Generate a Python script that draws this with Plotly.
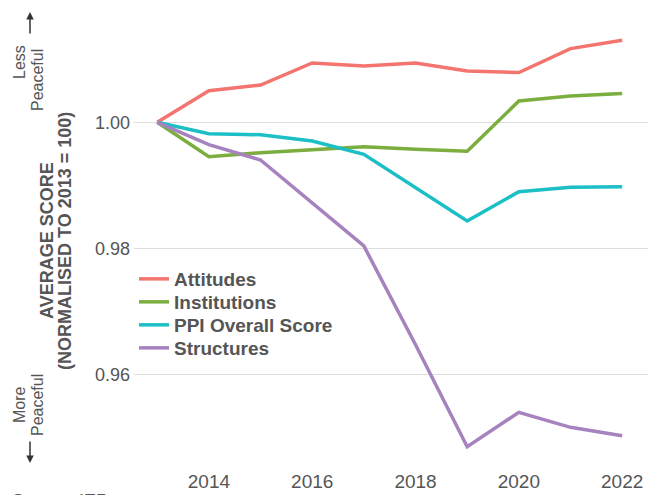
import plotly.graph_objects as go

years = [2013, 2014, 2015, 2016, 2017, 2018, 2019, 2020, 2021, 2022]
attitudes = [1.0, 1.00501, 1.00591, 1.0094, 1.00892, 1.0094, 1.00813, 1.00789, 1.01168, 1.01301]
institutions = [1.0, 0.99455, 0.99518, 0.99572, 0.99613, 0.99572, 0.9954, 1.00338, 1.00417, 1.00458]
ppi_overall = [1.0, 0.99819, 0.99803, 0.99704, 0.99493, 0.98964, 0.98436, 0.98900, 0.9897, 0.9898]
structures = [1.0, 0.99645, 0.99403, 0.98721, 0.9804, 0.96475, 0.94859, 0.95404, 0.95166, 0.95033]

series_names = ["Attitudes", "Institutions", "PPI Overall Score", "Structures"]
series_values = [attitudes, institutions, ppi_overall, structures]
colors = ["#F4756F", "#7BAE3E", "#1CBFC6", "#A683BF"]

x_ticks = [2014, 2016, 2018, 2020, 2022]
y_ticks = [0.96, 0.98, 1.00]
y_ticklabels = ["0.96", "0.98", "1.00"]

FONT = "Liberation Sans, Arial, Helvetica, sans-serif"
GREY = "#555555"

W, H = 653, 495
L, R, T, B = 134, 5, 10, 30
PW, PH = W - L - R, H - T - B


def px(x):
    return (x - L) / PW


def py(y):
    return (H - B - y) / PH


fig = go.Figure()
legend_ids = ["legend", "legend2", "legend3", "legend4"]
legend_rows = [279, 302, 325, 348]
for name, vals, col, lid in zip(series_names, series_values, colors, legend_ids):
    fig.add_trace(go.Scatter(x=years, y=vals, mode="lines", name=name, legend=lid,
                             line=dict(color=col, width=3.5)))

layout_legends = {}
for lid, row in zip(legend_ids, legend_rows):
    layout_legends[lid] = dict(
        x=px(134), y=py(row), xanchor="left", yanchor="middle",
        bgcolor="rgba(0,0,0,0)", itemwidth=30,
        font=dict(size=19, color=GREY, family=FONT, weight="bold"))

fig.update_layout(
    width=W, height=H,
    margin=dict(l=L, r=R, t=T, b=B, autoexpand=False),
    paper_bgcolor="white", plot_bgcolor="white",
    font=dict(family=FONT, color=GREY, size=16),
    showlegend=True,
    **layout_legends,
)
fig.update_xaxes(range=[2012.55, 2022.5], tickvals=x_ticks, showgrid=False,
                 zeroline=False, showline=False, ticks="", ticklabelstandoff=3,
                 tickfont=dict(size=19, color=GREY))
fig.update_yaxes(range=[0.94569, 1.0178], tickvals=y_ticks, ticktext=y_ticklabels,
                 showgrid=True, gridcolor="#DDDDDD", gridwidth=1,
                 zeroline=False, showline=False, ticks="", ticklabelstandoff=3,
                 tickfont=dict(size=18, color=GREY))

# y-axis title (two rotated lines)
fig.add_annotation(text="<b>AVERAGE SCORE</b>", xref="paper", yref="paper",
                   x=px(47), y=py(241), xanchor="center", yanchor="middle",
                   textangle=-90, showarrow=False,
                   font=dict(size=18, color=GREY, family=FONT))
fig.add_annotation(text="<b>(NORMALISED TO 2013 = 100)</b>", xref="paper", yref="paper",
                   x=px(65), y=py(241), xanchor="center", yanchor="middle",
                   textangle=-90, showarrow=False,
                   font=dict(size=18, color=GREY, family=FONT))

# side annotations
side = [("Less", 19, 62), ("Peaceful", 37, 80), ("More", 19, 405), ("Peaceful", 37, 405)]
for txt, sx, sy in side:
    fig.add_annotation(text=txt, xref="paper", yref="paper",
                       x=px(sx), y=py(sy), xanchor="center", yanchor="middle",
                       textangle=-90, showarrow=False,
                       font=dict(size=16, color=GREY, family=FONT))
# arrows (pixel offsets relative to head)
fig.add_annotation(text="", xref="paper", yref="paper", x=px(30), y=py(12),
                   ax=0, ay=23, showarrow=True, arrowhead=2, arrowsize=1,
                   arrowwidth=1.5, arrowcolor="#333333")
fig.add_annotation(text="", xref="paper", yref="paper", x=px(30), y=py(463),
                   ax=0, ay=-23, showarrow=True, arrowhead=2, arrowsize=1,
                   arrowwidth=1.5, arrowcolor="#333333")
fig.add_annotation(text="Source: IEP", xref="paper", yref="paper",
                   x=px(10), y=py(489), xanchor="left", yanchor="top",
                   showarrow=False, font=dict(size=18, color=GREY, family=FONT))

fig.write_html("out.html", config={"displayModeBar": False},
               post_script="document.body.style.margin='0px';")
